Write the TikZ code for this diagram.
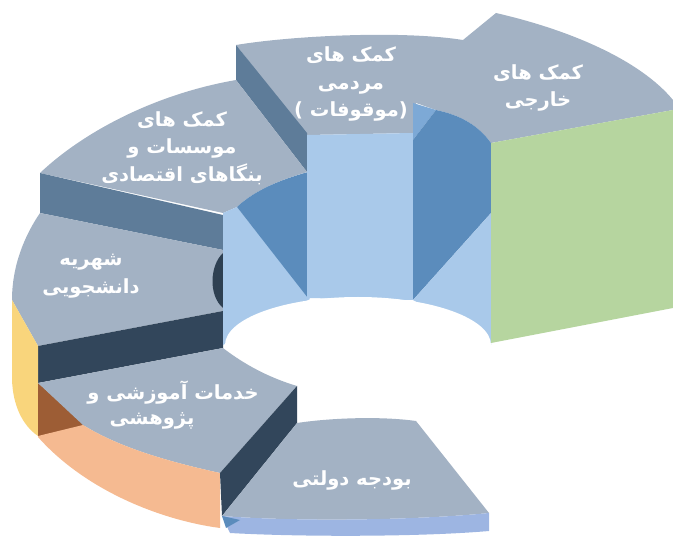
\documentclass[tikz,border=0pt]{standalone}
\usepackage{fontspec}
\newfontfamily\arabicfont[Script=Arabic]{DejaVu Sans}
\newfontfamily\parenfont{DejaVu Sans}
\TeXXeTstate=1
\newcommand{\rtlline}[1]{\beginR #1\endR}
\definecolor{topgray}{HTML}{A3B2C4}
\definecolor{slateside}{HTML}{5E7C99}
\definecolor{navyside}{HTML}{32465B}
\definecolor{crescent}{HTML}{2E4052}
\definecolor{wallyellow}{HTML}{F9D57C}
\definecolor{wallbrown}{HTML}{9D5D35}
\definecolor{wallorange}{HTML}{F5BA91}
\definecolor{wallgreen}{HTML}{B6D59F}
\definecolor{innerlight}{HTML}{A9C9EA}
\definecolor{innerdark}{HTML}{5B8CBC}
\definecolor{innermid}{HTML}{7DA9D6}
\definecolor{rimblue}{HTML}{9DB5E2}
\tikzset{
    top/.style={fill=topgray},          % upper faces of the ring pieces
    side/.style={fill=#1},              % cut and wall faces
    piece label/.style={                % white persian text
        text=white,
        font=\arabicfont\bfseries\fontsize{19.5}{27.5}\selectfont,
        align=center,
        inner sep=0pt
    }
}
\begin{document}
\begin{tikzpicture}[x=1pt,y=-1pt]
    \useasboundingbox (0,0) rectangle (673,537);
    % kmk khareji + mardomi, top
    \fill[top] (236,45) .. controls (290,36) and (400,30) .. (463,40)
        -- (496,13) .. controls (570,30) and (640,60) .. (673,100)
        -- (673,110) -- (491,143)
        .. controls (478,125) and (460,115) .. (436,110)
        -- (416,103) -- (413,133) -- (307,135) -- cycle;
    \fill[side=slateside] (236,45) -- (307,133) -- (307,172) -- (236,80) -- cycle;
    % mo'assesat
    \fill[top] (40,173) .. controls (80,135) and (150,95) .. (236,80)
        -- (307,172) .. controls (280,180) and (255,190) .. (237,207)
        -- (223,213) -- cycle;
    \fill[side=slateside] (40,173) -- (223,215) -- (223,250) -- (40,213) -- cycle;
    % shahriye
    \fill[top] (40,213) .. controls (25,235) and (12,265) .. (12,300)
        -- (38,346) -- (223,311) -- (223,250) -- cycle;
    \fill[side=navyside] (38,346) -- (223,311) -- (223,348) -- (38,383) -- cycle;
    \fill[side=wallyellow] (12,300) -- (38,346) -- (38,436)
        .. controls (22,425) and (13,405) .. (12,380) -- cycle;
    \fill[side=crescent] (223,253) .. controls (210,265) and (208,295) .. (223,308) -- cycle;
    % inner walls
    \fill[side=innerlight] (223,213) -- (237,207) -- (310,299) -- (223,345) -- cycle;
    \fill[side=innerdark] (237,207) .. controls (255,190) and (280,180) .. (308,172)
        -- (308,298) -- cycle;
    \fill[side=innerlight] (307,135) -- (413,133) -- (413,300) -- (307,298) -- cycle;
    \fill[side=innermid] (413,103) -- (436,110) -- (413,140) -- cycle;
    \fill[side=innerdark] (436,110) .. controls (460,115) and (478,125) .. (491,143)
        -- (491,213) -- (413,300) -- (413,140) -- cycle;
    \fill[side=innerlight] (491,213) -- (491,345) -- (413,300) -- cycle;
    % hole
    \fill[white] (225,345) arc[start angle=180, end angle=360, x radius=133, y radius=48]
        -- (491,470) -- (225,470) -- cycle;
    % khadamat
    \fill[side=wallbrown] (38,383) -- (85,425) -- (38,437) -- cycle;
    \fill[top] (38,383) -- (223,348) .. controls (245,365) and (270,378) .. (297,386)
        -- (220,473) .. controls (170,462) and (120,448) .. (83,425) -- cycle;
    \fill[side=wallorange] (38,436) -- (83,425) .. controls (120,448) and (170,462) .. (220,473)
        -- (220,528) .. controls (160,520) and (85,490) .. (38,437) -- cycle;
    \fill[side=navyside] (297,386) -- (297,423) -- (222,516) -- (220,473) -- cycle;
    % budje dolati
    \fill[top] (297,423) .. controls (330,418) and (380,416) .. (416,421)
        -- (489,513) .. controls (420,520) and (300,522) .. (222,516) -- cycle;
    \fill[side=rimblue] (222,516) .. controls (300,522) and (420,520) .. (489,513)
        -- (489,531) .. controls (420,537) and (300,537) .. (230,533) -- cycle;
    \fill[side=innerdark] (222,516) -- (240,520) -- (226,528) -- cycle;
    % green cut face
    \fill[side=wallgreen] (491,143) -- (673,110) -- (673,308) -- (491,343) -- cycle;

    % labels
    \node[piece label] (khareji)  at (538,88)  {\rtlline{کمک های}\\\rtlline{خارجی}};
    \node[piece label] (mardomi)  at (351,84)  {\rtlline{کمک های}\\\rtlline{مردمی}\\{\parenfont(} \rtlline{موقوفات}{\parenfont)}};
    \node[piece label] (moassese) at (182,148) {\rtlline{کمک های}\\\rtlline{موسسات و}\\\rtlline{بنگاهای اقتصادی}};
    \node[piece label] (shahriye) at (91,276)  {\rtlline{شهریه}\\\rtlline{دانشجویی}};
    \node[piece label] (khadamat) at (173,393) {\rtlline{خدمات آموزشی و}};
    \node[piece label] (pazhuhesh) at (152,421) {\rtlline{پژوهشی}};
    \node[piece label] (dolati)   at (352,480) {\rtlline{بودجه دولتی}};
\end{tikzpicture}
\end{document}
